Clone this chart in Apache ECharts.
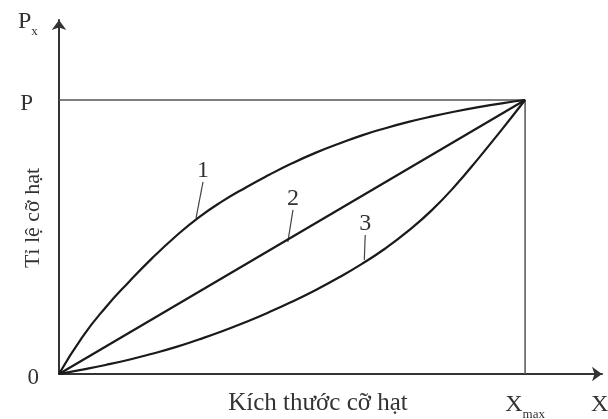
<!DOCTYPE html>
<html><head><meta charset="utf-8">
<script src="https://cdn.jsdelivr.net/npm/echarts@6/dist/echarts.min.js"></script>
<style>html,body{margin:0;padding:0;background:#fff}#c{width:608px;height:419px}</style>
</head><body><div id="c"></div>
<script>
// Normalised data: X in % of Xmax, Y in % of P
const curveX = [0, 5, 10, 15, 20, 25, 30, 35, 40, 45, 50, 55, 60, 65, 70, 75, 80, 85, 90, 95, 100];
const curve1Y = [0, 13.5, 24.3, 33.6, 42.3, 50.2, 57.2, 63.0, 68.0, 72.6, 76.9, 80.7, 84.0, 87.1, 89.7, 92.0, 94.0, 95.8, 97.4, 98.8, 100];
const curve2X = [0, 100];
const curve2Y = [0, 100];
const curve3Y = [0, 1.6, 3.3, 5.2, 7.4, 9.8, 12.6, 15.6, 18.9, 22.5, 26.4, 30.6, 35.2, 40.2, 45.8, 52.3, 59.8, 68.7, 78.7, 89.2, 100];
const curveNames = ['1', '2', '3'];
const leaderX = [[29.4, 30.9], [49.1, 50.2], [65.5, 65.7]];
const leaderY = [[56.9, 70.1], [48.2, 59.9], [41.6, 50.7]];
const pValue = 100;
const xMaxValue = 100;
const yTickValues = [0, 100];
const yTickLabels = ['0', 'P'];
const xTickValues = [100, 116];
const xTickLabels = ['{b|X}{s|max}', '{b|X}'];
const xAxisTitle = 'Kích thước cỡ hạt';
const yAxisTitle = 'Tỉ lệ cỡ hạt';

const FONT = '"Liberation Serif", "DejaVu Serif", serif';
const TXT = '#333';
const zip = (a, b) => a.map((v, i) => [v, b[i]]);

const chart = echarts.init(document.getElementById('c'));
const curveStyle = { color: '#1a1a1a', width: 2.2 };
const series = [
  { type: 'line', data: [[0, pValue], [xMaxValue, pValue], [xMaxValue, 0]], showSymbol: false,
    lineStyle: { color: '#555', width: 1.5 }, z: 1 },
  { type: 'line', data: zip(curveX, curve1Y), smooth: 0.5, showSymbol: false, lineStyle: curveStyle, z: 3 },
  { type: 'line', data: zip(curve2X, curve2Y), showSymbol: false, lineStyle: curveStyle, z: 3 },
  { type: 'line', data: zip(curveX, curve3Y), smooth: 0.5, showSymbol: false, lineStyle: curveStyle, z: 3 }
];
curveNames.forEach((n, i) => {
  series.push({
    type: 'line',
    data: [
      { value: [leaderX[i][0], leaderY[i][0]], symbol: 'none' },
      { value: [leaderX[i][1], leaderY[i][1]],
        label: { show: true, position: 'top', distance: -1, formatter: n,
                 fontFamily: FONT, fontSize: 24, color: TXT } }
    ],
    symbol: 'circle', symbolSize: 1, showSymbol: true,
    itemStyle: { color: 'rgba(0,0,0,0)' },
    lineStyle: { color: '#444', width: 1.2 }, z: 2
  });
});

const subRich = {
  b: { fontFamily: FONT, fontSize: 24, color: TXT, padding: [0, 0, 4, 0], verticalAlign: 'bottom' },
  s: { fontFamily: FONT, fontSize: 13, color: TXT, verticalAlign: 'bottom' }
};

chart.setOption({
  animation: false,
  backgroundColor: '#fff',
  grid: { left: 59, right: 6, top: 20, bottom: 45, containLabel: false, outerBoundsMode: 'none' },
  xAxis: {
    type: 'value', min: 0, max: 116.5,
    axisLine: { show: true, symbol: ['none', 'arrow'], symbolSize: [11, 10],
                lineStyle: { color: '#333', width: 2 } },
    axisTick: { show: false }, splitLine: { show: false },
    axisLabel: {
      customValues: xTickValues, margin: 19,
      formatter: v => xTickLabels[xTickValues.indexOf(v)] || '',
      fontFamily: FONT, fontSize: 24, color: TXT,
      rich: subRich
    }
  },
  yAxis: {
    type: 'value', min: 0, max: 129.2,
    axisLine: { show: true, symbol: ['none', 'arrow'], symbolSize: [11, 10],
                lineStyle: { color: '#333', width: 2 } },
    axisTick: { show: false }, splitLine: { show: false },
    axisLabel: {
      customValues: yTickValues, margin: 20,
      formatter: v => (v === 0 ? '{z|' : '{p|') + yTickLabels[yTickValues.indexOf(v)] + '}',
      rich: {
        z: { fontFamily: FONT, fontSize: 23, color: TXT, padding: [8, 0, 0, 0] },
        p: { fontFamily: FONT, fontSize: 23, color: TXT, padding: [7, 6, 0, 0] }
      }
    }
  },
  graphic: [
    { type: 'text', x: 318, y: 403,
      style: { text: xAxisTitle, font: '25px ' + FONT, fill: TXT, align: 'center', verticalAlign: 'middle' } },
    { type: 'text', x: 33, y: 218, rotation: Math.PI / 2,
      style: { text: yAxisTitle, font: '22px ' + FONT, fill: TXT, align: 'center', verticalAlign: 'middle' } },
    { type: 'text', x: 18, y: 10,
      style: { text: '{b|P}{s|x}', font: '24px ' + FONT, fill: TXT,
               rich: {
                 b: { font: '24px ' + FONT, fill: TXT, padding: [0, 0, 4, 0], verticalAlign: 'bottom' },
                 s: { font: '13px ' + FONT, fill: TXT, verticalAlign: 'bottom' }
               } } }
  ],
  series: series
});
</script></body></html>
